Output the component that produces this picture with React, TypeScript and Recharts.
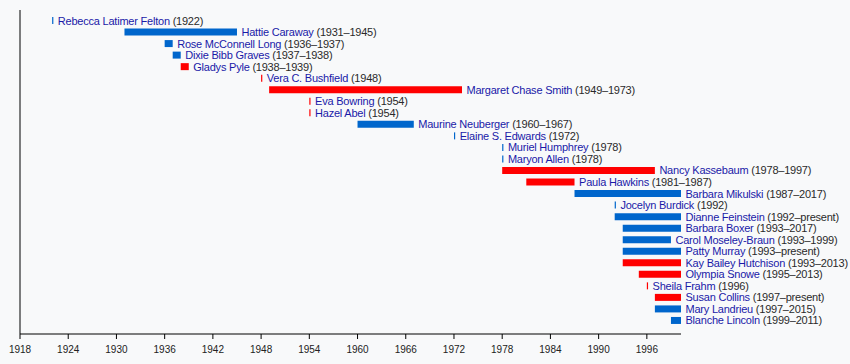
import React from "react";
import { Bar, BarChart, Cell, LabelList, ReferenceLine, XAxis, YAxis } from "recharts";

// senators, in the order they are stacked top to bottom
const names = [
  "Rebecca Latimer Felton",
  "Hattie Caraway",
  "Rose McConnell Long",
  "Dixie Bibb Graves",
  "Gladys Pyle",
  "Vera C. Bushfield",
  "Margaret Chase Smith",
  "Eva Bowring",
  "Hazel Abel",
  "Maurine Neuberger",
  "Elaine S. Edwards",
  "Muriel Humphrey",
  "Maryon Allen",
  "Nancy Kassebaum",
  "Paula Hawkins",
  "Barbara Mikulski",
  "Jocelyn Burdick",
  "Dianne Feinstein",
  "Barbara Boxer",
  "Carol Moseley-Braun",
  "Patty Murray",
  "Kay Bailey Hutchison",
  "Olympia Snowe",
  "Sheila Frahm",
  "Susan Collins",
  "Mary Landrieu",
  "Blanche Lincoln",
];

const terms = [
  "1922", "1931–1945", "1936–1937", "1937–1938", "1938–1939", "1948",
  "1949–1973", "1954", "1954", "1960–1967", "1972", "1978", "1978",
  "1978–1997", "1981–1987", "1987–2017", "1992", "1992–present",
  "1993–2017", "1993–1999", "1993–present", "1993–2013", "1995–2013",
  "1996", "1997–present", "1997–2015", "1999–2011",
];

// bar extents on the time axis (years)
const starts = [
  1922, 1931, 1936, 1937, 1938, 1948, 1949, 1954, 1954, 1960, 1972, 1978, 1978,
  1978, 1981, 1987, 1992, 1992, 1993, 1993, 1993, 1993, 1995, 1996, 1997, 1997, 1999,
];
const ends = [
  1922.15, 1945, 1937, 1938, 1939, 1948.15, 1973, 1954.15, 1954.15, 1967, 1972.15,
  1978.15, 1978.15, 1997, 1987, 2000.25, 1992.15, 2000.25, 2000.25, 1999, 2000.25,
  2000.25, 2000.25, 1996.15, 2000.25, 2000.25, 2000.25,
];

const parties = [
  "D", "D", "D", "D", "R", "R", "R", "R", "R", "D", "D", "D", "D",
  "R", "R", "D", "D", "D", "D", "D", "D", "R", "R", "R", "R", "D", "D",
];

const yearTicks = [1918, 1924, 1930, 1936, 1942, 1948, 1954, 1960, 1966, 1972, 1978, 1984, 1990, 1996];

const partyColor: Record<string, string> = { D: "#0066cc", R: "#ff0000" };

const rows = names.map((name, i) => ({
  name,
  span: [starts[i], ends[i]],
  label: `${name}|${terms[i]}`,
  party: parties[i],
}));

const FONT = "'Liberation Sans', Arial, sans-serif";

function TermLabel(props: any) {
  const { x, y, width, height, value } = props;
  const [name, years] = String(value).split("|");
  return (
    <text
      x={Number(x) + Number(width) + 4.5}
      y={Number(y) + Number(height) / 2}
      dominantBaseline="central"
      fontFamily={FONT}
      fontSize={11}
      letterSpacing={-0.22}
    >
      <tspan fill="#1a1aa8">{name}</tspan>
      <tspan fill="#2a2a2a"> ({years})</tspan>
    </text>
  );
}

export default function App() {
  return (
    <div
      style={{
        position: "absolute",
        left: 0,
        top: 0,
        width: 850,
        height: 364,
        background: "#f8f9fa",
      }}
    >
      <BarChart
        width={850}
        height={364}
        data={rows}
        layout="vertical"
        margin={{ top: 10, right: 169, left: 20, bottom: 0 }}
      >
        <XAxis
          type="number"
          domain={[1918, 2000.25]}
          ticks={yearTicks}
          allowDataOverflow
          height={30}
          stroke="#000"
          tickSize={5}
          tickMargin={7}
          tick={{ fill: "#222", fontSize: 10, fontFamily: FONT }}
        />
        <YAxis
          type="category"
          dataKey="name"
          width={0}
          tick={false}
          tickLine={false}
          axisLine={false}
          padding={{ top: 5, bottom: 7.5 }}
        />
        <ReferenceLine x={1918} stroke="#000" ifOverflow="visible" />
        <Bar dataKey="span" barSize={7} isAnimationActive={false}>
          {rows.map((r, i) => (
            <Cell key={i} fill={partyColor[r.party]} />
          ))}
          <LabelList dataKey="label" content={TermLabel} />
        </Bar>
      </BarChart>
    </div>
  );
}
